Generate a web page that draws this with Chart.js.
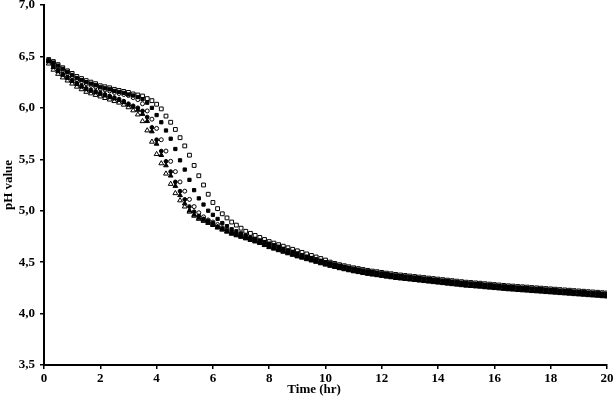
<!DOCTYPE html>
<html>
<head>
<meta charset="utf-8">
<script src="https://cdn.jsdelivr.net/npm/chart.js@4"></script>
<style>
  html, body { margin: 0; padding: 0; background: #fff; }
  #wrap { width: 614px; height: 401px; }
</style>
</head>
<body>
<div id="wrap"><canvas id="chart" width="614" height="401"></canvas></div>
<script>
// Sampling times (minutes), one reading every 10 min
var minutes = [
  10, 20, 30, 40, 50, 60, 70, 80, 90, 100, 110, 120,
  130, 140, 150, 160, 170, 180, 190, 200, 210, 220, 230, 240,
  250, 260, 270, 280, 290, 300, 310, 320, 330, 340, 350, 360,
  370, 380, 390, 400, 410, 420, 430, 440, 450, 460, 470, 480,
  490, 500, 510, 520, 530, 540, 550, 560, 570, 580, 590, 600,
  610, 620, 630, 640, 650, 660, 670, 680, 690, 700, 710, 720,
  730, 740, 750, 760, 770, 780, 790, 800, 810, 820, 830, 840,
  850, 860, 870, 880, 890, 900, 910, 920, 930, 940, 950, 960,
  970, 980, 990, 1000, 1010, 1020, 1030, 1040, 1050, 1060, 1070, 1080,
  1090, 1100, 1110, 1120, 1130, 1140, 1150, 1160, 1170, 1180, 1190, 1200
];

// pH readings, one list per run
var openSquare = [
  6.47, 6.45, 6.42, 6.39, 6.36, 6.335, 6.305, 6.285, 6.265, 6.25, 6.235, 6.215, 6.205, 6.195, 6.18, 6.17, 6.16, 6.15, 6.135, 6.125, 6.115,
  6.09, 6.07, 6.035, 5.99, 5.92, 5.86, 5.79, 5.71, 5.63, 5.54, 5.44, 5.34, 5.25, 5.16, 5.08, 5.02, 4.97, 4.93, 4.89,
  4.86, 4.83, 4.80, 4.78, 4.76, 4.74, 4.72, 4.70, 4.685, 4.67, 4.655, 4.64, 4.625, 4.61, 4.595, 4.58, 4.565, 4.55, 4.535, 4.52,
  4.50, 4.487, 4.475, 4.465, 4.455, 4.445, 4.437, 4.428, 4.42, 4.413, 4.407, 4.40, 4.393, 4.387, 4.38, 4.375, 4.37, 4.365, 4.36, 4.355,
  4.35, 4.345, 4.34, 4.335, 4.33, 4.325, 4.32, 4.315, 4.31, 4.305, 4.302, 4.298, 4.295, 4.29, 4.286, 4.282, 4.278, 4.274, 4.27, 4.267,
  4.263, 4.26, 4.257, 4.253, 4.25, 4.247, 4.243, 4.24, 4.237, 4.233, 4.23, 4.227, 4.223, 4.22, 4.217, 4.213, 4.21, 4.207, 4.203, 4.20
];
var filledSquare = [
  6.46, 6.44, 6.41, 6.38, 6.35, 6.32, 6.29, 6.27, 6.25, 6.235, 6.22, 6.20, 6.19, 6.18, 6.165, 6.155, 6.145, 6.13, 6.12, 6.105, 6.085,
  6.05, 6.00, 5.93, 5.86, 5.78, 5.70, 5.60, 5.49, 5.40, 5.30, 5.20, 5.12, 5.06, 5.00, 4.96, 4.92, 4.88, 4.85, 4.82,
  4.80, 4.78, 4.76, 4.74, 4.725, 4.71, 4.695, 4.68, 4.665, 4.65, 4.63, 4.615, 4.60, 4.585, 4.567, 4.553, 4.54, 4.527, 4.513, 4.50,
  4.488, 4.477, 4.465, 4.455, 4.445, 4.435, 4.427, 4.418, 4.41, 4.403, 4.397, 4.39, 4.383, 4.377, 4.37, 4.365, 4.36, 4.355, 4.35, 4.345,
  4.34, 4.335, 4.33, 4.325, 4.32, 4.315, 4.31, 4.305, 4.30, 4.295, 4.292, 4.288, 4.285, 4.28, 4.276, 4.272, 4.268, 4.264, 4.26, 4.257,
  4.253, 4.25, 4.247, 4.243, 4.24, 4.237, 4.233, 4.23, 4.227, 4.223, 4.22, 4.217, 4.213, 4.21, 4.207, 4.203, 4.20, 4.197, 4.193, 4.19
];
var openCircle = [
  6.45, 6.425, 6.395, 6.365, 6.335, 6.305, 6.275, 6.255, 6.235, 6.22, 6.205, 6.185, 6.175, 6.165, 6.15, 6.14, 6.13, 6.12, 6.10, 6.08, 6.04,
  5.97, 5.89, 5.80, 5.69, 5.58, 5.48, 5.38, 5.28, 5.19, 5.11, 5.04, 4.98, 4.94, 4.91, 4.89, 4.865, 4.835, 4.815, 4.795,
  4.78, 4.765, 4.75, 4.735, 4.72, 4.705, 4.685, 4.665, 4.65, 4.635, 4.62, 4.605, 4.59, 4.575, 4.562, 4.548, 4.535, 4.522, 4.508, 4.495,
  4.483, 4.472, 4.46, 4.45, 4.44, 4.43, 4.422, 4.413, 4.405, 4.398, 4.392, 4.385, 4.378, 4.372, 4.365, 4.36, 4.355, 4.35, 4.345, 4.34,
  4.335, 4.33, 4.325, 4.32, 4.315, 4.31, 4.305, 4.30, 4.295, 4.29, 4.287, 4.283, 4.28, 4.275, 4.271, 4.267, 4.263, 4.259, 4.255, 4.252,
  4.248, 4.245, 4.242, 4.238, 4.235, 4.232, 4.228, 4.225, 4.222, 4.218, 4.215, 4.212, 4.208, 4.205, 4.202, 4.198, 4.195, 4.192, 4.188, 4.185
];
var filledCircle = [
  6.46, 6.405, 6.365, 6.33, 6.30, 6.27, 6.24, 6.215, 6.19, 6.175, 6.16, 6.145, 6.13, 6.115, 6.10, 6.085, 6.065, 6.04, 6.02, 6.00, 5.97,
  5.91, 5.81, 5.69, 5.58, 5.48, 5.38, 5.28, 5.19, 5.11, 5.04, 4.99, 4.95, 4.92, 4.90, 4.88, 4.845, 4.825, 4.805, 4.785,
  4.77, 4.755, 4.74, 4.725, 4.71, 4.695, 4.675, 4.655, 4.64, 4.625, 4.61, 4.595, 4.58, 4.565, 4.552, 4.538, 4.525, 4.512, 4.498, 4.485,
  4.473, 4.462, 4.45, 4.44, 4.43, 4.42, 4.412, 4.403, 4.395, 4.388, 4.382, 4.375, 4.368, 4.362, 4.355, 4.35, 4.345, 4.34, 4.335, 4.33,
  4.325, 4.32, 4.315, 4.31, 4.305, 4.30, 4.295, 4.29, 4.285, 4.28, 4.277, 4.273, 4.27, 4.265, 4.261, 4.257, 4.253, 4.249, 4.245, 4.242,
  4.238, 4.235, 4.232, 4.228, 4.225, 4.222, 4.218, 4.215, 4.212, 4.208, 4.205, 4.202, 4.198, 4.195, 4.192, 4.188, 4.185, 4.182, 4.178, 4.175
];
var filledTriangle = [
  6.45, 6.395, 6.355, 6.32, 6.29, 6.26, 6.23, 6.205, 6.18, 6.165, 6.15, 6.135, 6.12, 6.105, 6.09, 6.075, 6.055, 6.03, 6.01, 5.98, 5.94,
  5.87, 5.77, 5.65, 5.54, 5.44, 5.34, 5.24, 5.15, 5.07, 5.00, 4.96, 4.93, 4.91, 4.89, 4.87, 4.84, 4.82, 4.80, 4.78,
  4.765, 4.75, 4.735, 4.72, 4.705, 4.69, 4.67, 4.65, 4.635, 4.62, 4.605, 4.59, 4.575, 4.56, 4.547, 4.533, 4.52, 4.507, 4.493, 4.48,
  4.468, 4.457, 4.445, 4.435, 4.425, 4.415, 4.407, 4.398, 4.39, 4.383, 4.377, 4.37, 4.363, 4.357, 4.35, 4.345, 4.34, 4.335, 4.33, 4.325,
  4.32, 4.315, 4.31, 4.305, 4.30, 4.295, 4.29, 4.285, 4.28, 4.275, 4.272, 4.268, 4.265, 4.26, 4.256, 4.252, 4.248, 4.244, 4.24, 4.237,
  4.233, 4.23, 4.227, 4.223, 4.22, 4.217, 4.213, 4.21, 4.207, 4.203, 4.20, 4.197, 4.193, 4.19, 4.187, 4.183, 4.18, 4.177, 4.173, 4.17
];
var openTriangle = [
  6.43, 6.37, 6.33, 6.295, 6.265, 6.235, 6.205, 6.18, 6.155, 6.14, 6.125, 6.11, 6.095, 6.08, 6.065, 6.05, 6.03, 6.005, 5.975, 5.935, 5.87,
  5.78, 5.67, 5.55, 5.46, 5.36, 5.26, 5.17, 5.10, 5.04, 4.99, 4.95, 4.92, 4.90, 4.88, 4.86, 4.835, 4.815, 4.795, 4.775,
  4.76, 4.745, 4.73, 4.715, 4.70, 4.685, 4.665, 4.645, 4.63, 4.615, 4.60, 4.585, 4.57, 4.555, 4.542, 4.528, 4.515, 4.502, 4.488, 4.475,
  4.463, 4.452, 4.44, 4.43, 4.42, 4.41, 4.402, 4.393, 4.385, 4.378, 4.372, 4.365, 4.358, 4.352, 4.345, 4.34, 4.335, 4.33, 4.325, 4.32,
  4.315, 4.31, 4.305, 4.30, 4.295, 4.29, 4.285, 4.28, 4.275, 4.27, 4.267, 4.263, 4.26, 4.255, 4.251, 4.247, 4.243, 4.239, 4.235, 4.232,
  4.228, 4.225, 4.222, 4.218, 4.215, 4.212, 4.208, 4.205, 4.202, 4.198, 4.195, 4.192, 4.188, 4.185, 4.182, 4.178, 4.175, 4.172, 4.168, 4.165
];

// Axis ranges and ticks
var xMin = 0, xMax = 20, xStep = 2;
var yMin = 3.5, yMax = 7, yStep = 0.5;

function points(values) {
  return values.map(function (v, i) { return { x: minutes[i] / 60, y: v }; });
}

function series(label, values, style, filled, radius, order) {
  return {
    label: label,
    data: points(values),
    showLine: false,
    pointStyle: style,
    pointRadius: radius,
    pointBorderWidth: 1,
    pointBorderColor: '#000',
    pointBackgroundColor: filled ? '#000' : '#fff',
    order: order
  };
}

var tickFont = { family: "'Liberation Serif', 'Times New Roman', serif", size: 13, weight: 'bold' };
var titleFont = { family: "'Liberation Serif', 'Times New Roman', serif", size: 13, weight: 'bold' };

var ctx = document.getElementById('chart');

var config = {
  type: 'scatter',
  data: {
    datasets: [
      series('open square', openSquare, 'rect', false, 2.7, 6),
      series('open circle', openCircle, 'circle', false, 2, 5),
      series('open triangle', openTriangle, 'triangle', false, 2.8, 4),
      series('filled square', filledSquare, 'rect', true, 2.3, 3),
      series('filled triangle', filledTriangle, 'triangle', true, 2.7, 2),
      series('filled circle', filledCircle, 'circle', true, 1.9, 1)
    ]
  },
  options: {
    responsive: false,
    animation: false,
    layout: { padding: { top: 5, right: 7, left: 0, bottom: 0 } },
    plugins: {
      legend: { display: false },
      tooltip: { enabled: false }
    },
    scales: {
      x: {
        type: 'linear',
        min: xMin,
        max: xMax,
        ticks: { stepSize: xStep, color: '#000', font: tickFont, padding: 2, maxRotation: 0, autoSkip: false },
        grid: { drawOnChartArea: false, drawTicks: true, tickLength: 4, color: '#000', lineWidth: 1.5 },
        border: { display: true, color: '#000', width: 2 },
        // trailing spaces nudge the centred title a little to the left, as in the source
        title: { display: true, text: 'Time (hr)       ', color: '#000', font: titleFont, padding: { top: 0, bottom: 4 } },
        afterFit: function (scale) {
          scale.height = 36;
          scale.paddingLeft = 0;
          scale.paddingRight = 0;
        }
      },
      y: {
        type: 'linear',
        min: yMin,
        max: yMax,
        ticks: {
          stepSize: yStep,
          color: '#000',
          font: tickFont,
          padding: 5,
          callback: function (v) { return v.toFixed(1).replace('.', ','); }
        },
        grid: { drawOnChartArea: false, drawTicks: true, tickLength: 4, color: '#000', lineWidth: 1.5 },
        border: { display: true, color: '#000', width: 2 },
        title: { display: true, text: 'pH value', color: '#000', font: titleFont, padding: { top: 1, bottom: 0 } },
        afterFit: function (scale) {
          scale.width = 44;
          scale.paddingTop = 0;
          scale.paddingBottom = 0;
        }
      }
    }
  }
};

var myChart = new Chart(ctx, config);
</script>
</body>
</html>
